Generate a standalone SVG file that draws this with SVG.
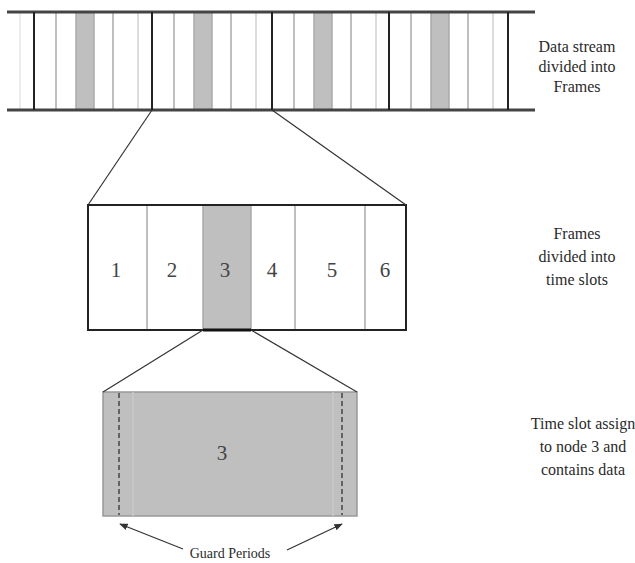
<svg xmlns="http://www.w3.org/2000/svg" width="635" height="563" viewBox="0 0 635 563">
  <style>
    .lbl { font-family: "Liberation Serif", serif; font-size: 16px; fill: #2a2a2a; text-anchor: middle; }
    .num { font-family: "Liberation Serif", serif; font-size: 21px; fill: #444; text-anchor: middle; }
    .rail { stroke: #444; stroke-width: 3; }
    .frame { stroke: #222; stroke-width: 2; }
    .thin { stroke: #aaa; stroke-width: 1.5; }
    .light { stroke: #d0d0d0; stroke-width: 1.5; }
    .slot { fill: #bfbfbf; }
    .conn { stroke: #333; stroke-width: 1.2; fill: none; }
    .guard { stroke: #444; stroke-width: 1.5; stroke-dasharray: 5 3; }
  </style>
  <defs>
    <marker id="arrow" viewBox="0 0 10 10" refX="9" refY="5" markerWidth="7" markerHeight="7" orient="auto">
      <path d="M0,1 L10,5 L0,9 Z" fill="#333"/>
    </marker>
  </defs>

  <rect width="635" height="563" fill="#fff"/>

  <!-- data stream of frames; each frame has a shaded slot and thin dividers -->
  <g id="stream">
    <line x1="20" y1="12" x2="20" y2="110" stroke="#e6e6e6" stroke-width="1.5"/>
    <rect class="slot" x="76" y="12" width="18" height="98"/>
    <rect class="slot" x="194" y="12" width="18" height="98"/>
    <rect class="slot" x="314" y="12" width="18" height="98"/>
    <rect class="slot" x="431" y="12" width="18" height="98"/>
    <line class="thin" x1="56" y1="12" x2="56" y2="110"/>
    <line class="thin" x1="76" y1="12" x2="76" y2="110"/>
    <line class="thin" x1="94" y1="12" x2="94" y2="110"/>
    <line class="thin" x1="113" y1="12" x2="113" y2="110"/>
    <line class="light" x1="138" y1="12" x2="138" y2="110"/>
    <line class="thin" x1="174" y1="12" x2="174" y2="110"/>
    <line class="thin" x1="194" y1="12" x2="194" y2="110"/>
    <line class="thin" x1="212" y1="12" x2="212" y2="110"/>
    <line class="thin" x1="231" y1="12" x2="231" y2="110"/>
    <line class="light" x1="256" y1="12" x2="256" y2="110"/>
    <line class="thin" x1="294" y1="12" x2="294" y2="110"/>
    <line class="thin" x1="314" y1="12" x2="314" y2="110"/>
    <line class="thin" x1="332" y1="12" x2="332" y2="110"/>
    <line class="thin" x1="351" y1="12" x2="351" y2="110"/>
    <line class="light" x1="376" y1="12" x2="376" y2="110"/>
    <line class="thin" x1="411" y1="12" x2="411" y2="110"/>
    <line class="thin" x1="431" y1="12" x2="431" y2="110"/>
    <line class="thin" x1="449" y1="12" x2="449" y2="110"/>
    <line class="thin" x1="468" y1="12" x2="468" y2="110"/>
    <line class="light" x1="493" y1="12" x2="493" y2="110"/>
    <line class="rail" x1="7" y1="12" x2="535" y2="12"/>
    <line class="rail" x1="7" y1="110" x2="535" y2="110"/>
    <line class="frame" x1="34" y1="12" x2="34" y2="110"/>
    <line class="frame" x1="152" y1="12" x2="152" y2="110"/>
    <line class="frame" x1="272" y1="12" x2="272" y2="110"/>
    <line class="frame" x1="389" y1="12" x2="389" y2="110"/>
    <line class="frame" x1="508" y1="12" x2="508" y2="110"/>
    <text class="lbl" font-family="Liberation Serif" x="577" y="52">Data stream</text>
    <text class="lbl" font-family="Liberation Serif" x="577" y="72">divided into</text>
    <text class="lbl" font-family="Liberation Serif" x="577" y="92">Frames</text>
  </g>

  <!-- one frame split into six time slots -->
  <g id="frame">
    <rect x="88" y="205" width="318" height="125" fill="#fff"/>
    <rect class="slot" x="203" y="205" width="48" height="125"/>
    <line class="thin" x1="147" y1="205" x2="147" y2="330"/>
    <line class="thin" x1="203" y1="205" x2="203" y2="330"/>
    <line class="thin" x1="251" y1="205" x2="251" y2="330"/>
    <line class="thin" x1="295" y1="205" x2="295" y2="330"/>
    <line class="thin" x1="365" y1="205" x2="365" y2="330"/>
    <rect x="88" y="205" width="318" height="125" fill="none" stroke="#222" stroke-width="2"/>
    <line x1="203" y1="330" x2="251" y2="330" stroke="#111" stroke-width="3"/>
    <text class="num" font-family="Liberation Serif" x="116" y="277">1</text>
    <text class="num" font-family="Liberation Serif" x="172" y="277">2</text>
    <text class="num" font-family="Liberation Serif" x="225" y="277">3</text>
    <text class="num" font-family="Liberation Serif" x="272" y="277">4</text>
    <text class="num" font-family="Liberation Serif" x="332" y="277">5</text>
    <text class="num" font-family="Liberation Serif" x="385" y="277">6</text>
    <text class="lbl" font-family="Liberation Serif" x="577" y="239">Frames</text>
    <text class="lbl" font-family="Liberation Serif" x="577" y="262">divided into</text>
    <text class="lbl" font-family="Liberation Serif" x="577" y="285">time slots</text>
  </g>

  <!-- the assigned slot with its two guard periods -->
  <g id="slot3">
    <rect x="103" y="392" width="254" height="124" fill="#bfbfbf" stroke="#999" stroke-width="1.5"/>
    <line x1="133" y1="392" x2="133" y2="516" stroke="#c8c8c8" stroke-width="1.5"/>
    <line x1="333" y1="392" x2="333" y2="516" stroke="#c8c8c8" stroke-width="1.5"/>
    <line class="guard" x1="119" y1="393" x2="119" y2="515"/>
    <line class="guard" x1="342" y1="393" x2="342" y2="515"/>
    <text class="num" font-family="Liberation Serif" x="222" y="460">3</text>
    <text class="lbl" font-family="Liberation Serif" x="583" y="429">Time slot assign</text>
    <text class="lbl" font-family="Liberation Serif" x="583" y="452">to node 3 and</text>
    <text class="lbl" font-family="Liberation Serif" x="583" y="475">contains data</text>
  </g>

  <g id="guard-label">
    <text class="lbl" font-family="Liberation Serif" x="230" y="558" style="font-size:14px">Guard Periods</text>
  </g>

  <!-- expansion lines and arrows -->
  <g id="connectors">
    <line class="conn" x1="152" y1="110" x2="88" y2="205"/>
    <line class="conn" x1="272" y1="110" x2="406" y2="205"/>
    <line class="conn" x1="203" y1="330" x2="103" y2="392"/>
    <line class="conn" x1="251" y1="330" x2="357" y2="392"/>
    <line class="conn" x1="183" y1="549" x2="120" y2="524" marker-end="url(#arrow)"/>
    <line class="conn" x1="287" y1="550" x2="342" y2="524" marker-end="url(#arrow)"/>
  </g>
</svg>
